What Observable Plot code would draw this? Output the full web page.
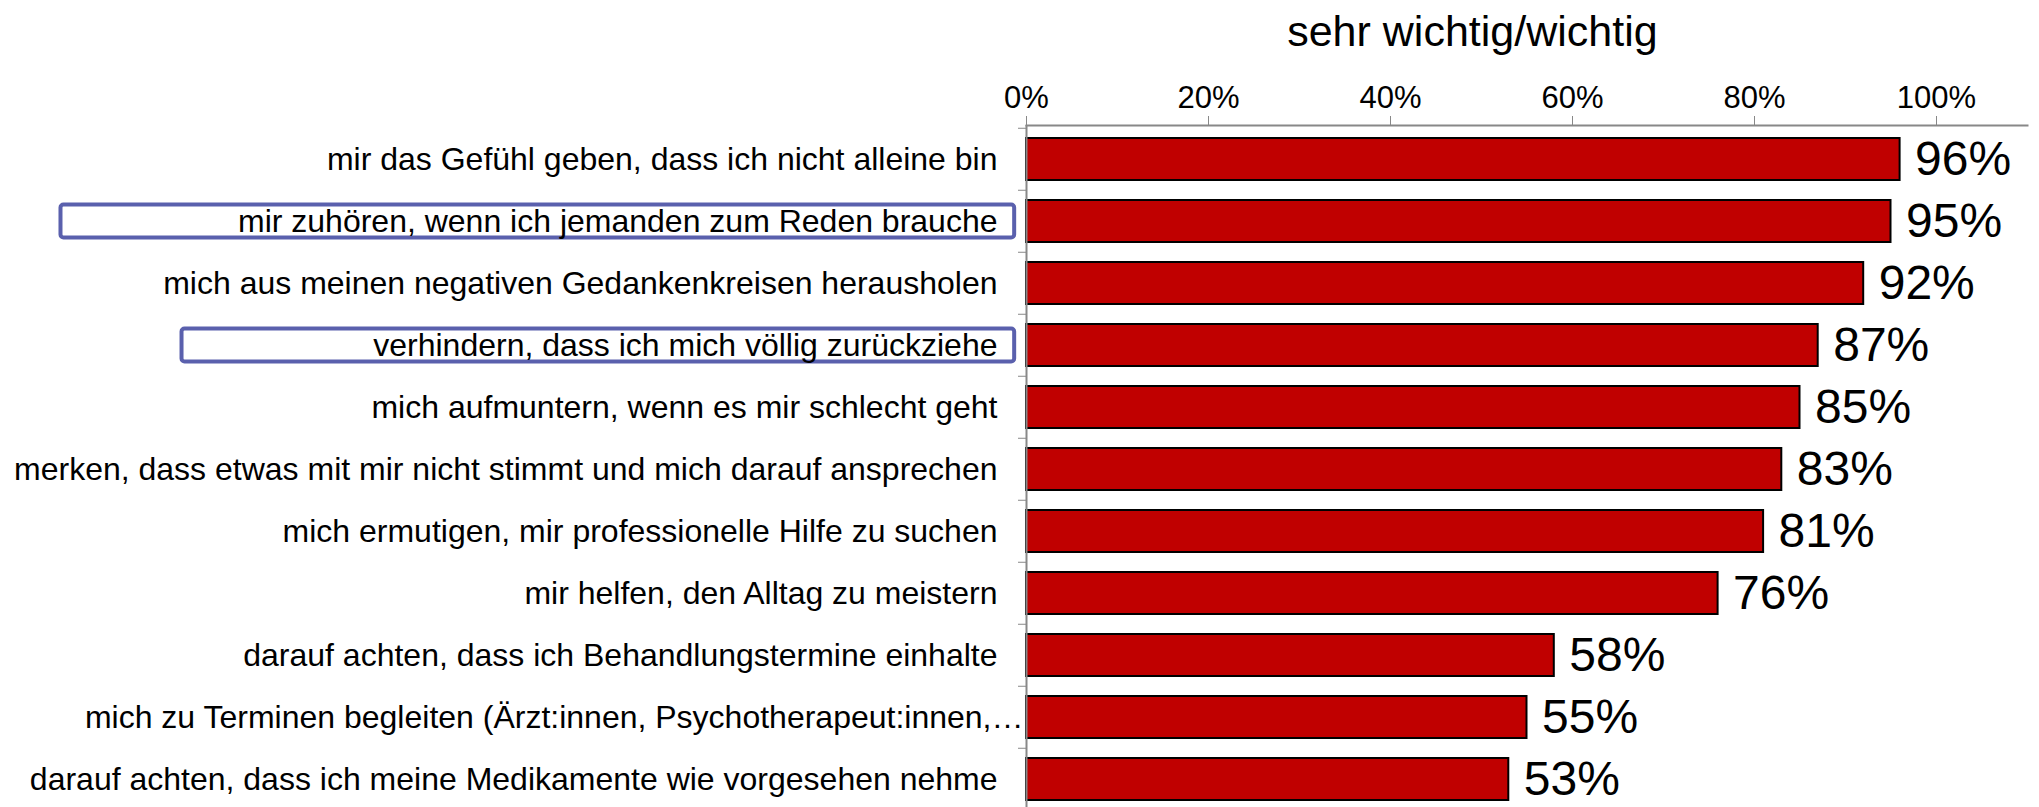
<!DOCTYPE html>
<html>
<head>
<meta charset="utf-8">
<script src="https://cdn.jsdelivr.net/npm/d3@7"></script>
<script src="https://cdn.jsdelivr.net/npm/@observablehq/plot@0.6"></script>
<style>
  html, body { margin: 0; padding: 0; background: #fff; }
  svg { font-family: "Liberation Sans", Arial, sans-serif; }
</style>
</head>
<body>
<div id="chart"></div>
<script>
const titleText = "sehr wichtig/wichtig";
const categories = [
  "mir das Gefühl geben, dass ich nicht alleine bin",
  "mir zuhören, wenn ich jemanden zum Reden brauche",
  "mich aus meinen negativen Gedankenkreisen herausholen",
  "verhindern, dass ich mich völlig zurückziehe",
  "mich aufmuntern, wenn es mir schlecht geht",
  "merken, dass etwas mit mir nicht stimmt und mich darauf ansprechen",
  "mich ermutigen, mir professionelle Hilfe zu suchen",
  "mir helfen, den Alltag zu meistern",
  "darauf achten, dass ich Behandlungstermine einhalte",
  "mich zu Terminen begleiten (Ärzt:innen, Psychotherapeut:innen,…",
  "darauf achten, dass ich meine Medikamente wie vorgesehen nehme"
];
const values = [0.96, 0.95, 0.92, 0.87, 0.85, 0.83, 0.81, 0.76, 0.58, 0.55, 0.53];
const xTicks = [0, 0.2, 0.4, 0.6, 0.8, 1.0];
const truncatedLabel = "mich zu Terminen begleiten (Ärzt:innen, Psychotherapeut:innen,…";
const highlighted = [
  {category: "mir zuhören, wenn ich jemanden zum Reden brauche", from: -1.061},
  {category: "verhindern, dass ich mich völlig zurückziehe", from: -0.928}
];

const data = categories.map((c, i) => ({category: c, value: values[i]}));

const chart = Plot.plot({
  width: 2039,
  height: 807,
  marginTop: 125,
  marginLeft: 1026,
  marginRight: 12,
  marginBottom: 0,
  style: {fontFamily: "'Liberation Sans', Arial, sans-serif", color: "black", background: "white"},
  x: {domain: [0, 1.1], range: [1026, 2027], axis: null},
  y: {domain: categories, range: [125, 812], paddingInner: 0.33, paddingOuter: 0.165, axis: null},
  marks: [
    // highlight boxes
    Plot.rect(highlighted, {
      y: "category", x1: "from", x2: -0.013,
      insetTop: 4.5, insetBottom: 4.5,
      fill: "none", stroke: "#5a60ad", strokeWidth: 4, rx: 3, clip: false
    }),
    // bars
    Plot.barX(data, {y: "category", x: "value", fill: "#c00000", stroke: "black", strokeWidth: 2}),
    // axes lines
    Plot.frame({anchor: "top", stroke: "#888", strokeWidth: 2}),
    Plot.ruleX([0], {stroke: "#888", strokeWidth: 2}),
    // top axis
    Plot.axisX({
      anchor: "top", ticks: xTicks, tickFormat: d3.format(".0%"), label: null,
      tickSize: 10, tickPadding: 8, fontSize: 31, stroke: "#888", fill: "black"
    }),
    // boundary ticks on y axis
    Plot.axisY({
      anchor: "left", tickSize: 8, text: null, label: null, stroke: "#888", dy: -31.25
    }),
    // category labels
    Plot.text(data.filter(d => d.category !== truncatedLabel), {
      y: "category", text: "category", frameAnchor: "left",
      textAnchor: "end", dx: -29, fontSize: 32, fill: "black"
    }),
    Plot.text(data.filter(d => d.category === truncatedLabel), {
      y: "category", text: "category", frameAnchor: "left",
      textAnchor: "end", dx: -3, fontSize: 32, fill: "black"
    }),
    // value labels
    Plot.text(data, {
      y: "category", x: "value", text: d => Math.round(d.value * 100) + "%",
      textAnchor: "start", dx: 15, fontSize: 48, fill: "black"
    }),
    // title
    Plot.text([titleText], {
      x: 0.49, frameAnchor: "top", text: d => d, lineAnchor: "bottom",
      dy: -80, fontSize: 43, fill: "black"
    })
  ]
});
document.getElementById("chart").appendChild(chart);
</script>
</body>
</html>
